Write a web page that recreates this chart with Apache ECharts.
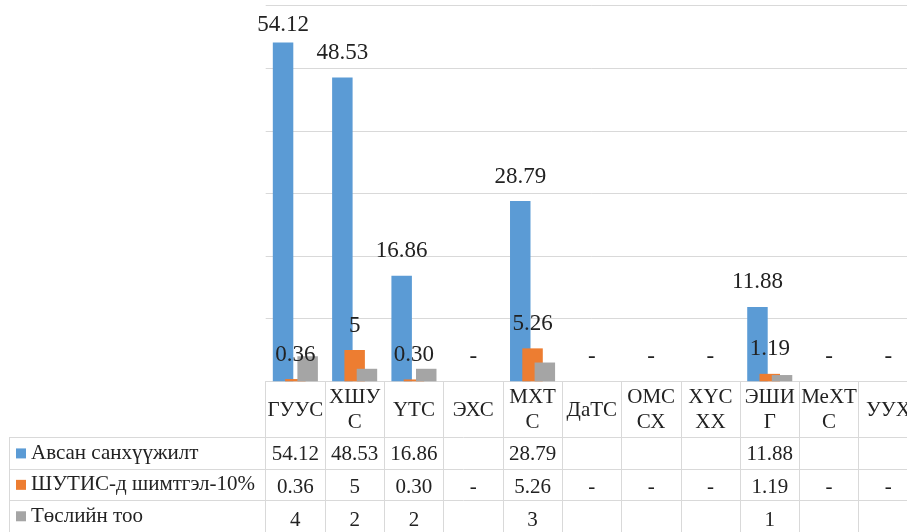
<!DOCTYPE html>
<html>
<head>
<meta charset="utf-8">
<script src="https://cdn.jsdelivr.net/npm/echarts@6/dist/echarts.min.js"></script>
<style>
  html, body { margin: 0; padding: 0; overflow: hidden; background: #fff; }
  #chart { position: absolute; left: 0; top: 0; width: 940px; height: 532px; }
</style>
</head>
<body>
<div id="chart"></div>
<script>
// categories (tick labels, wrapped like the original)
var categories = ['ГУУС', 'ХШУ\nС', 'ҮТС', 'ЭХС', 'МХТ\nС', 'ДаТС', 'ОМС\nСХ', 'ХҮС\nХХ', 'ЭШИ\nГ', 'МеХТ\nС', 'УУХ'];
var seriesNames = ['Авсан санхүүжилт', 'ШУТИС-д шимтгэл-10%', 'Төслийн тоо'];

// series values
var funding = [54.12, 48.53, 16.86, null, 28.79, null, null, null, 11.88, null, null];
var fee = [0.36, 5, 0.30, 0, 5.26, 0, 0, 0, 1.19, 0, 0];
var projects = [4, 2, 2, null, 3, null, null, null, 1, null, null];

// data table text
var fundingText = ['54.12', '48.53', '16.86', '', '28.79', '', '', '', '11.88', '', ''];
var feeText = ['0.36', '5', '0.30', '-', '5.26', '-', '-', '-', '1.19', '-', '-'];
var projectsText = ['4', '2', '2', '', '3', '', '', '', '1', '', ''];

var colors = ['#5B9BD5', '#ED7D31', '#A5A5A5'];
var lineColor = '#D9D9D9';
var textColor = '#222';
var font = 'Liberation Serif';

// layout
var plotLeft = 265.7, plotTop = 5.7, plotBottom = 381.3, colW = 59.3;
var tableTop = 437.7, rowH = 33;

var chartDom = document.getElementById('chart');
var myChart = echarts.init(chartDom);

function rowAxis(texts, row) {
    return {
        type: 'category',
        gridIndex: 0,
        position: 'bottom',
        data: texts,
        offset: tableTop + rowH * row + rowH / 2 - plotBottom,
        axisLine: { show: false },
        axisTick: { show: false },
        splitLine: { show: false },
        axisLabel: {
            interval: 0, margin: 0, verticalAlign: 'middle',
            fontFamily: font, fontSize: 21, color: textColor
        }
    };
}

var rich = { t: { fontFamily: font, fontSize: 21, color: textColor, padding: [0, 0, 0, 5] } };
colors.forEach(function (c, i) {
    rich['s' + i] = { backgroundColor: c, width: 10, height: 10 };
});

var barLabel = function (texts) {
    return {
        show: true,
        position: 'top',
        distance: 13,
        fontFamily: font,
        fontSize: 23,
        color: textColor,
        formatter: function (p) { return texts[p.dataIndex]; }
    };
};

var option = {
    animation: false,
    color: colors,
    textStyle: { fontFamily: font },
    grid: [
        { left: plotLeft, top: plotTop, width: colW * categories.length, height: plotBottom - plotTop },
        { left: 9, top: tableTop, width: plotLeft - 9 + colW * categories.length, height: rowH * 3 }
    ],
    xAxis: [
        {
            type: 'category',
            gridIndex: 0,
            data: categories,
            axisLine: { lineStyle: { color: lineColor } },
            axisTick: { show: true, interval: 0, length: 160, lineStyle: { color: lineColor } },
            axisLabel: {
                interval: 0, margin: 29, verticalAlign: 'middle', lineHeight: 25,
                fontFamily: font, fontSize: 21, color: textColor
            }
        },
        rowAxis(fundingText, 0),
        rowAxis(feeText, 1),
        rowAxis(projectsText, 2),
        { type: 'value', gridIndex: 1, show: false, min: 0, max: 1 }
    ],
    yAxis: [
        {
            type: 'value',
            gridIndex: 0,
            min: 0, max: 60, interval: 10,
            axisLabel: { show: false },
            axisLine: { show: false },
            axisTick: { show: false },
            splitLine: { lineStyle: { color: lineColor } }
        },
        {
            type: 'category',
            gridIndex: 1,
            inverse: true,
            data: seriesNames,
            axisLine: { show: true, lineStyle: { color: lineColor } },
            axisTick: { show: false },
            splitLine: { show: true, lineStyle: { color: lineColor } },
            axisLabel: {
                inside: true, margin: 7, align: 'left',
                formatter: function (v, i) { return '{s' + i + '|}{t|' + v + '}'; },
                rich: rich
            }
        }
    ],
    series: [
        {
            name: seriesNames[0], type: 'bar', xAxisIndex: 0, yAxisIndex: 0,
            data: funding,
            barGap: '-40%', barCategoryGap: '24%',
            label: barLabel(fundingText),
            // keep labels inside the chart area, as the original does
            labelLayout: function (p) {
                var r = p.labelRect;
                if (r && r.y < 13) return { dy: 13 - r.y };
                return {};
            }
        },
        {
            name: seriesNames[1], type: 'bar', xAxisIndex: 0, yAxisIndex: 0,
            data: fee,
            barGap: '-40%', barCategoryGap: '24%',
            label: barLabel(feeText)
        },
        {
            name: seriesNames[2], type: 'bar', xAxisIndex: 0, yAxisIndex: 0,
            data: projects,
            barGap: '-40%', barCategoryGap: '24%'
        }
    ]
};

option && myChart.setOption(option);
</script>
</body>
</html>
